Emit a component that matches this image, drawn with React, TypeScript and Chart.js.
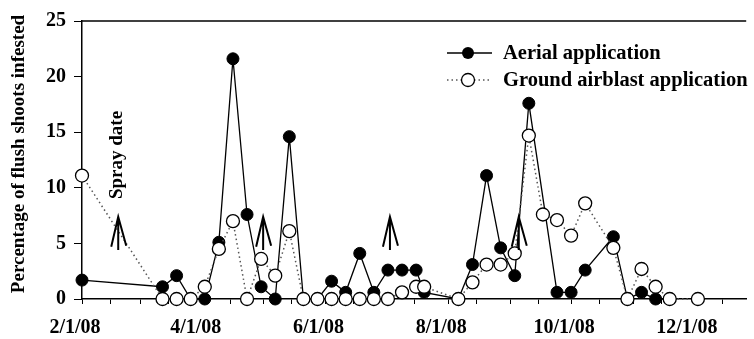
import React, { useEffect, useRef } from "react";
import { Chart, registerables } from "chart.js";
Chart.register(...registerables);

// ---- data ----
const aerialDates = ["2008-02-01","2008-03-12","2008-03-19","2008-03-26","2008-04-02","2008-04-09","2008-04-16","2008-04-23","2008-04-30","2008-05-07","2008-05-14","2008-05-21","2008-05-28","2008-06-04","2008-06-11","2008-06-18","2008-06-25","2008-07-02","2008-07-09","2008-07-16","2008-07-20","2008-08-06","2008-08-13","2008-08-20","2008-08-27","2008-09-03","2008-09-10","2008-09-24","2008-10-01","2008-10-08","2008-10-22","2008-10-29","2008-11-05","2008-11-12","2008-11-19"];
const aerialValues = [1.7,1.1,2.1,0,0,5.1,21.6,7.6,1.1,0,14.6,0,0,1.6,0.6,4.1,0.6,2.6,2.6,2.6,0.6,0,3.1,11.1,4.6,2.1,17.6,0.6,0.6,2.6,5.6,0,0.6,0,0];

const groundDates = ["2008-02-01","2008-03-12","2008-03-19","2008-03-26","2008-04-02","2008-04-09","2008-04-16","2008-04-23","2008-04-30","2008-05-07","2008-05-14","2008-05-21","2008-05-28","2008-06-04","2008-06-11","2008-06-18","2008-06-25","2008-07-02","2008-07-09","2008-07-16","2008-07-20","2008-08-06","2008-08-13","2008-08-20","2008-08-27","2008-09-03","2008-09-10","2008-09-17","2008-09-24","2008-10-01","2008-10-08","2008-10-22","2008-10-29","2008-11-05","2008-11-12","2008-11-19","2008-12-03"];
const groundValues = [11.1,0,0,0,1.1,4.5,7.0,0,3.6,2.1,6.1,0,0,0,0,0,0,0,0.6,1.1,1.1,0,1.5,3.1,3.1,4.1,14.7,7.6,7.1,5.7,8.6,4.6,0,2.7,1.1,0,0];

const sprayDates = ["2008-02-19","2008-05-01","2008-07-03","2008-09-05"];

const xTickDates = ["2008-02-01","2008-02-15","2008-03-01","2008-03-15","2008-04-01","2008-04-15","2008-05-01","2008-05-15","2008-06-01","2008-06-15","2008-07-01","2008-07-15","2008-08-01","2008-08-15","2008-09-01","2008-09-15","2008-10-01","2008-10-15","2008-11-01","2008-11-15","2008-12-01","2008-12-15"];
const xLabelDates = ["2008-02-01","2008-04-01","2008-06-01","2008-08-01","2008-10-01","2008-12-01"];
const xLabels = ["2/1/08","4/1/08","6/1/08","8/1/08","10/1/08","12/1/08"];

const seriesNames = ["Aerial application", "Ground airblast application"];
const yTitle = "Percentage of flush shoots infested";
const sprayText = "Spray date";

// ---- helpers ----
const BASE = Date.UTC(2008, 1, 1);
const dayOf = (s: string) => {
  const [y, m, d] = s.split("-").map(Number);
  return Math.round((Date.UTC(y, m - 1, d) - BASE) / 86400000);
};
const FONT = "'Liberation Serif', 'Times New Roman', serif";

export default function App() {
  const ref = useRef<HTMLCanvasElement>(null);

  useEffect(() => {
    if (!ref.current) return;
    const labelMap = new Map<number, string>();
    xLabelDates.forEach((d, i) => labelMap.set(dayOf(d), xLabels[i]));

    const decor = {
      id: "decor",
      afterDraw(chart: any) {
        const { ctx, chartArea, scales } = chart;
        const xs = scales.x, ys = scales.y;
        ctx.save();
        // top frame line
        ctx.strokeStyle = "#000";
        ctx.lineWidth = 1.5;
        ctx.beginPath();
        ctx.moveTo(chartArea.left, chartArea.top);
        ctx.lineTo(chartArea.right, chartArea.top);
        ctx.stroke();

        // y title
        ctx.save();
        ctx.translate(19, 154);
        ctx.rotate(-Math.PI / 2);
        ctx.fillStyle = "#000";
        ctx.font = `bold 19px ${FONT}`;
        ctx.textAlign = "center";
        ctx.textBaseline = "middle";
        ctx.fillText(yTitle, 0, 0);
        ctx.restore();

        // spray date text
        ctx.save();
        ctx.translate(117, 155);
        ctx.rotate(-Math.PI / 2);
        ctx.fillStyle = "#000";
        ctx.font = `bold 19px ${FONT}`;
        ctx.textAlign = "center";
        ctx.textBaseline = "middle";
        ctx.fillText(sprayText, 0, 0);
        ctx.restore();

        // arrows
        ctx.strokeStyle = "#000";
        ctx.lineWidth = 2;
        sprayDates.forEach((d) => {
          const px = xs.getPixelForValue(dayOf(d));
          const top = ys.getPixelForValue(7.4);
          const bottom = ys.getPixelForValue(4.4);
          ctx.beginPath();
          ctx.moveTo(px, top);
          ctx.lineTo(px, bottom);
          ctx.moveTo(px - 7, top + 30);
          ctx.lineTo(px, top);
          ctx.lineTo(px + 8, top + 29);
          ctx.stroke();
        });

        // legend
        const lx0 = 447, lx1 = 492, mx = 468, tx = 503;
        const rows = [53, 80];
        ctx.font = `bold 20.5px ${FONT}`;
        ctx.textAlign = "left";
        ctx.textBaseline = "middle";
        // aerial
        ctx.strokeStyle = "#000";
        ctx.lineWidth = 1.3;
        ctx.setLineDash([]);
        ctx.beginPath();
        ctx.moveTo(lx0, rows[0]);
        ctx.lineTo(lx1, rows[0]);
        ctx.stroke();
        ctx.beginPath();
        ctx.arc(mx, rows[0], 6, 0, Math.PI * 2);
        ctx.fillStyle = "#000";
        ctx.fill();
        ctx.fillText(seriesNames[0], tx, rows[0] + 1);
        // ground
        ctx.strokeStyle = "#555";
        ctx.lineWidth = 1.5;
        ctx.setLineDash([1.5, 3]);
        ctx.beginPath();
        ctx.moveTo(lx0, rows[1]);
        ctx.lineTo(lx1, rows[1]);
        ctx.stroke();
        ctx.setLineDash([]);
        ctx.beginPath();
        ctx.arc(mx, rows[1], 6.5, 0, Math.PI * 2);
        ctx.fillStyle = "#fff";
        ctx.fill();
        ctx.strokeStyle = "#000";
        ctx.lineWidth = 1.3;
        ctx.stroke();
        ctx.fillStyle = "#000";
        ctx.fillText(seriesNames[1], tx, rows[1] + 1);
        ctx.restore();
      },
    };

    const chart = new Chart(ref.current, {
      type: "line",
      data: {
        datasets: [
          {
            label: seriesNames[0],
            data: aerialDates.map((d, i) => ({ x: dayOf(d), y: aerialValues[i] })),
            borderColor: "#000",
            borderWidth: 1.3,
            pointRadius: 6,
            pointBackgroundColor: "#000",
            pointBorderColor: "#000",
            pointBorderWidth: 1,
            tension: 0,
            clip: false as any,
            order: 1,
          },
          {
            label: seriesNames[1],
            data: groundDates.map((d, i) => ({ x: dayOf(d), y: groundValues[i] })),
            borderColor: "#555",
            borderWidth: 1.5,
            borderDash: [1.5, 3],
            pointRadius: 6.5,
            pointBackgroundColor: "#fff",
            pointBorderColor: "#000",
            pointBorderWidth: 1.3,
            tension: 0,
            clip: false as any,
            order: 0,
          },
        ],
      },
      options: {
        responsive: false,
        animation: false,
        devicePixelRatio: 1,
        layout: { padding: { top: 21, right: 1, left: 0, bottom: 0 } },
        plugins: { legend: { display: false }, tooltip: { enabled: false } },
        scales: {
          x: {
            type: "linear",
            min: 0,
            max: 330,
            afterFit: (s: any) => { s.height = 40; },
            afterBuildTicks: (s: any) => {
              s.ticks = xTickDates.map((d) => ({ value: dayOf(d) }));
            },
            ticks: {
              autoSkip: false,
              maxRotation: 0,
              padding: 12,
              labelOffset: -7,
              color: "#000",
              font: { family: FONT, size: 20, weight: "bold" },
              callback: (v: any) => labelMap.get(Number(v)) ?? "",
            },
            grid: { drawOnChartArea: false, tickLength: 5, color: "#000", tickColor: "#000" },
            border: { display: true, color: "#000", width: 1.5 },
          },
          y: {
            min: 0,
            max: 25,
            afterFit: (s: any) => { s.width = 82; },
            ticks: {
              stepSize: 5,
              padding: 8,
              color: "#000",
              font: { family: FONT, size: 20, weight: "bold" },
            },
            grid: { drawOnChartArea: false, tickLength: 8, color: "#000", tickColor: "#000" },
            border: { display: true, color: "#000", width: 1.5 },
          },
        },
      },
      plugins: [decor],
    } as any);
    return () => chart.destroy();
  }, []);

  return (
    <div style={{ position: "absolute", left: 0, top: 0, width: 754, height: 339, background: "#fff" }}>
      <canvas ref={ref} width={754} height={339} style={{ display: "block" }} />
    </div>
  );
}
